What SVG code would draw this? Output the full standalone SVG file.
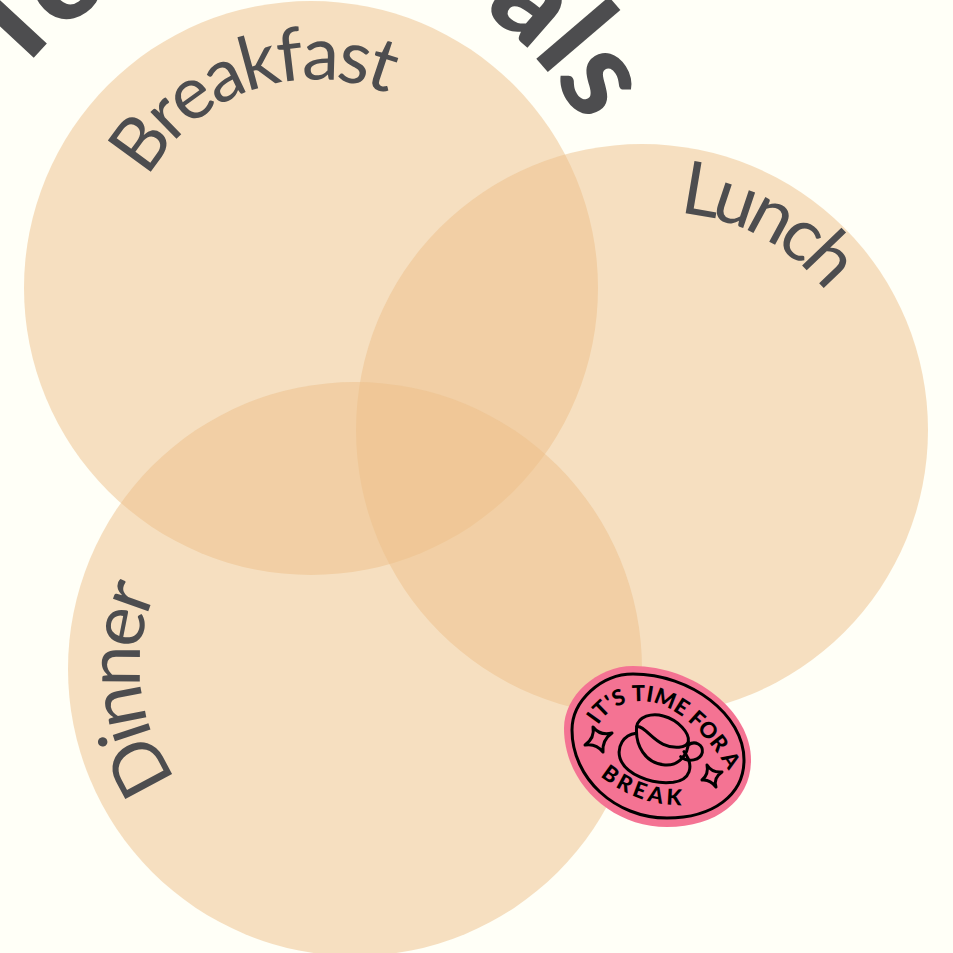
<svg xmlns="http://www.w3.org/2000/svg" width="953" height="953" viewBox="0 0 953 953">
<style>
.c{fill:#edbf89;fill-opacity:.5}
.l{font-family:Lato,"Open Sans",sans-serif;font-weight:400;font-size:74px;fill:#4d4d4f}
.t{font-family:Lato,"Open Sans",sans-serif;font-weight:900;font-size:128px;fill:#4d4d4f}
.b{font-family:Lato,"Open Sans",sans-serif;font-weight:900;font-size:22px;fill:#000}
.k{fill:none;stroke:#000;stroke-width:3;stroke-linejoin:round;stroke-linecap:round}
.cup{fill:none;stroke:#000;stroke-width:9;stroke-linejoin:round;stroke-linecap:round}
</style>
<defs>
<path id="pB" d="M148,178 A191,191 0 0 1 440,126"/>
<path id="pL" d="M679,213 A209,209 0 0 1 850,330"/>
<path id="pD" d="M177,779 A188,188 0 0 1 170,565"/>
<path id="pT1" d="M15,80 A338,338 0 0 1 180,-36"/>
<path id="pT2" d="M422.5,-23.8 A338,338 0 0 1 623,285"/>
<path id="pTop" d="M598,725 C620,690 675,685 727,768 L745,800"/>
<path id="pBot" d="M600,776 Q640,808 690,805"/>
</defs>
<rect width="953" height="953" fill="#fffff7"/>
<g id="title"><text class="t"><textPath href="#pT1">To</textPath></text><text class="t"><textPath href="#pT2">eals</textPath></text></g>
<g id="breakfast"><circle class="c" cx="311" cy="288" r="287"/><text class="l"><textPath href="#pB" textLength="278" lengthAdjust="spacing">Breakfast</textPath></text></g>
<g id="lunch"><circle class="c" cx="642" cy="430" r="286"/><text class="l"><textPath href="#pL" textLength="172" lengthAdjust="spacing">Lunch</textPath></text></g>
<g id="dinner"><circle class="c" cx="355" cy="669" r="287"/><text class="l"><textPath href="#pD" textLength="198" lengthAdjust="spacing">Dinner</textPath></text></g>
<g id="badge">
<path fill="#f47393" d="M633,666 C694,666 751,711 751,760 C751,800 717,827 667,827 C610,827 564,782 564,728 C564,696 597,666 633,666Z"/>
<path class="k" d="M633,674 C691,674 744,715 744,760 C744,795 713,818 667,818 C615,818 572,778 572,730 C572,701 601,674 633,674Z"/>
<text class="b"><textPath href="#pTop" textLength="168" lengthAdjust="spacing">IT'S TIME FOR A</textPath></text>
<text class="b"><textPath href="#pBot" textLength="88" lengthAdjust="spacing">BREAK</textPath></text>
<path class="k" d="M593,727 Q600,736 612,733 Q602,740 603,752 Q596,743 585,745 Q595,738 593,727Z"/>
<path class="k" d="M707,765 Q712,773 722,772 Q713,778 716,787 Q710,779 702,780 Q709,774 707,765Z"/>
<g transform="translate(610 705) scale(.3333)">
<path class="cup" d="M80,65 C85,35 125,22 160,33 C205,45 240,85 235,110 C230,130 190,132 160,118 C125,103 100,60 80,65Z"/>
<path class="cup" d="M80,65 C75,120 105,175 165,180 C205,183 235,150 235,110"/>
<path class="cup" d="M235,120 C255,105 280,120 277,142 C272,165 235,175 212,155"/>
<path class="cup" d="M78,85 C40,90 20,125 30,160 C45,205 120,240 190,232 C240,225 255,185 222,140"/>
</g>
</g>
</svg>
